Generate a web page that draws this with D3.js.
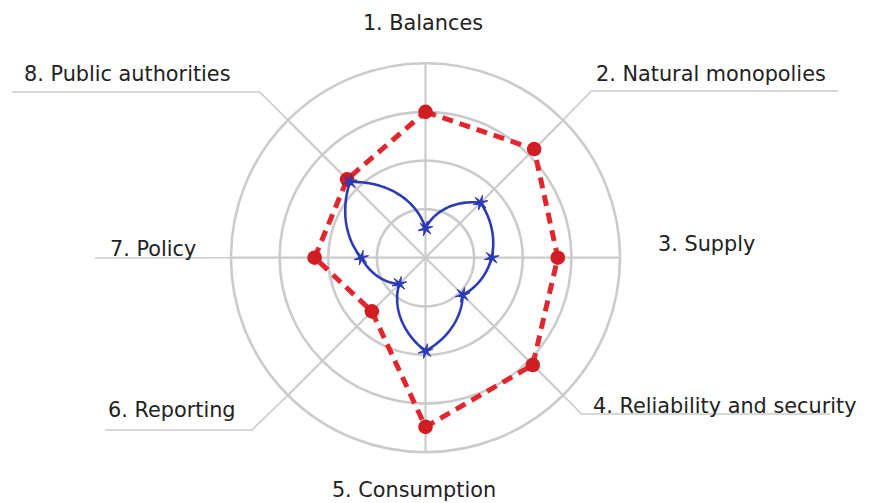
<!DOCTYPE html>
<html>
<head>
<meta charset="utf-8">
<script src="https://cdn.jsdelivr.net/npm/d3@7"></script>
<style>
  html, body { margin: 0; padding: 0; background: #ffffff; }
  svg { display: block; }
  text { font-family: "DejaVu Sans", sans-serif; font-size: 20.8px; fill: #222222; }
</style>
</head>
<body>
<svg id="chart" width="869" height="503"></svg>
<script>
// ---- data ----
const categories = ["1. Balances", "2. Natural monopolies", "3. Supply", "4. Reliability and security",
                    "5. Consumption", "6. Reporting", "7. Policy", "8. Public authorities"];
const redValues  = [75, 79, 68, 78, 87, 39, 57, 57];
const blueValues = [15, 40, 34, 27, 48, 19, 33, 55];
const ringTicks  = [25, 50, 75, 100];

// ---- layout (label placement, not data) ----
const labelLayout = [
  { x: 423, y: 30,  anchor: "middle" },
  { x: 596, y: 81,  anchor: "start", elbow: 40, lineTo: 838, lineY: 91 },
  { x: 658, y: 251, anchor: "start" },
  { x: 593, y: 413, anchor: "start", elbow: 26, lineTo: 830, lineY: 414 },
  { x: 414, y: 497, anchor: "middle" },
  { x: 108, y: 417, anchor: "start", elbow: 51, lineTo: 105, lineY: 430 },
  { x: 110, y: 256, anchor: "start", lineTo: 95, lineY: 258 },
  { x: 24,  y: 81,  anchor: "start", elbow: 40, lineTo: 12, lineY: 92 }
];

const cx = 425.5, cy = 257.7, R = 194.5;
const svg = d3.select("#chart");
const g = svg.append("g").attr("transform", `translate(${cx},${cy})`);

const r = d3.scaleLinear().domain([0, 100]).range([0, R]);
const angle = d3.scalePoint().domain(d3.range(categories.length + 1)).range([0, 2 * Math.PI]);
const ang = i => angle(i);
const px = (i, rad) => [rad * Math.sin(ang(i)), -rad * Math.cos(ang(i))];

const grey = "#cbcbcb";

// rings
g.selectAll("circle.ring").data(ringTicks).join("circle")
  .attr("class", "ring").attr("r", d => r(d))
  .attr("fill", "none").attr("stroke", grey).attr("stroke-width", 2.6);

// spokes
g.selectAll("line.spoke").data(categories).join("line")
  .attr("class", "spoke")
  .attr("x1", 0).attr("y1", 0)
  .attr("x2", (d, i) => px(i, r(100))[0])
  .attr("y2", (d, i) => px(i, r(100))[1])
  .attr("stroke", grey).attr("stroke-width", 2.2);

// leader lines
categories.forEach((c, i) => {
  const L = labelLayout[i];
  if (L.lineTo === undefined) return;
  const p0 = px(i, r(100));
  let pts = [p0];
  if (L.elbow) {
    const p1 = px(i, r(100) + L.elbow);
    pts.push([p1[0], L.lineY - cy]);
  }
  pts.push([L.lineTo - cx, L.lineY - cy]);
  g.append("path")
    .attr("d", d3.line()(pts))
    .attr("fill", "none").attr("stroke", grey).attr("stroke-width", 1.6);
});

// labels
svg.selectAll("text.lbl").data(categories).join("text")
  .attr("class", "lbl")
  .attr("x", (d, i) => labelLayout[i].x)
  .attr("y", (d, i) => labelLayout[i].y)
  .attr("text-anchor", (d, i) => labelLayout[i].anchor)
  .text(d => d);

// red dashed polygon
const radialLine = d3.lineRadial()
  .angle((d, i) => ang(i))
  .radius(d => r(d));

g.append("path")
  .attr("d", radialLine.curve(d3.curveLinearClosed)(redValues))
  .attr("fill", "none").attr("stroke", "#e2262d").attr("stroke-width", 5)
  .attr("stroke-dasharray", "11,7");

g.selectAll("circle.reddot").data(redValues).join("circle")
  .attr("class", "reddot")
  .attr("cx", (d, i) => px(i, r(d))[0])
  .attr("cy", (d, i) => px(i, r(d))[1])
  .attr("r", 7.3).attr("fill", "#d01d21");

// custom curve: linear interpolation in polar coordinates (spiral segments)
function curvePolarClosed(context) {
  return {
    areaStart() {}, areaEnd() {},
    lineStart() { this._pts = []; },
    point(x, y) { this._pts.push({ a: Math.atan2(y, x), r: Math.hypot(x, y) }); },
    lineEnd() {
      const p = this._pts, n = p.length, steps = 40;
      context.moveTo(p[0].r * Math.cos(p[0].a), p[0].r * Math.sin(p[0].a));
      for (let i = 0; i < n; i++) {
        const a0 = p[i], a1 = p[(i + 1) % n];
        let da = a1.a - a0.a;
        while (da > Math.PI) da -= 2 * Math.PI;
        while (da <= -Math.PI) da += 2 * Math.PI;
        for (let s = 1; s <= steps; s++) {
          const t = s / steps;
          const a = a0.a + da * t, rr = a0.r + (a1.r - a0.r) * t;
          context.lineTo(rr * Math.cos(a), rr * Math.sin(a));
        }
      }
      context.closePath();
    }
  };
}

const blue = "#2b3bb4";
g.append("path")
  .attr("d", d3.lineRadial().angle((d, i) => ang(i)).radius(d => r(d)).curve(curvePolarClosed)(blueValues))
  .attr("fill", "none").attr("stroke", blue).attr("stroke-width", 2.6).attr("stroke-linejoin", "round");

// star markers
const thinStar = {
  draw(context, size) {
    const ro = Math.sqrt(size), ri = ro * 0.28, k = 6;
    for (let j = 0; j < 2 * k; j++) {
      const a = j * Math.PI / k - Math.PI / 2;
      const rad = j % 2 === 0 ? ro : ri;
      if (j === 0) context.moveTo(rad * Math.cos(a), rad * Math.sin(a));
      else context.lineTo(rad * Math.cos(a), rad * Math.sin(a));
    }
    context.closePath();
  }
};
g.selectAll("path.star").data(blueValues).join("path")
  .attr("class", "star")
  .attr("transform", (d, i) => `translate(${px(i, r(d))[0]},${px(i, r(d))[1]}) rotate(15)`)
  .attr("d", d3.symbol().type(thinStar).size(58))
  .attr("fill", blue).attr("stroke", blue).attr("stroke-width", 0.9);
</script>
</body>
</html>
